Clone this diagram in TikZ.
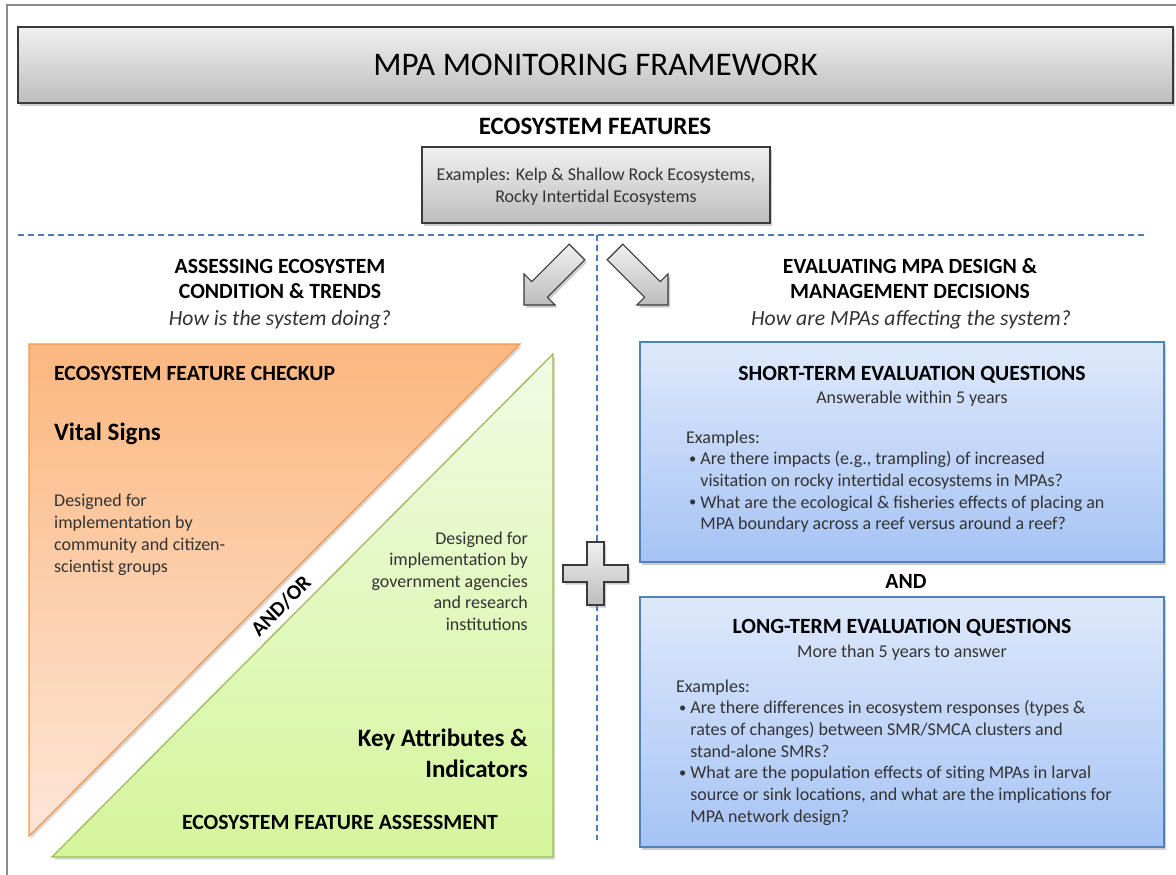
\documentclass[tikz,border=0pt]{standalone}
\usepackage{fontspec}
\setmainfont{Carlito}
\usetikzlibrary{shadows}
\definecolor{frame}{HTML}{8C8C8C}
\definecolor{boxborder}{HTML}{3A3A3A}
\definecolor{grayTop}{HTML}{F0F0F0}
\definecolor{grayBot}{HTML}{BDBDBD}
\definecolor{blueBorder}{HTML}{4F81BD}
\definecolor{blueTop}{HTML}{DEE9FB}
\definecolor{blueBot}{HTML}{A6C3F5}
\definecolor{orangeBorder}{HTML}{F79646}
\definecolor{orangeTop}{HTML}{FBB77F}
\definecolor{orangeBot}{HTML}{FDE6D8}
\definecolor{greenBorder}{HTML}{9BBB59}
\definecolor{greenTop}{HTML}{F0FBE4}
\definecolor{greenBot}{HTML}{D5F59B}
\definecolor{dashblue}{HTML}{4A7EBB}
\definecolor{bodytext}{HTML}{333333}
\newcommand{\smbullet}{\raisebox{0.15ex}{\scalebox{0.8}{\textbullet}}}
\begin{document}
\begin{tikzpicture}[x=1pt,y=-1pt,
  shadowed/.style={drop shadow={shadow xshift=2pt,shadow yshift=-2.5pt,opacity=0.4}},
  graybox/.style={draw=boxborder, line width=1.3pt, top color=grayTop, bottom color=grayBot, shadowed, inner sep=0},
  bluebox/.style={draw=blueBorder, line width=1.3pt, top color=blueTop, bottom color=blueBot, shadowed, inner sep=0},
  blockarrow/.style={draw=boxborder, line width=1.1pt, top color=grayTop, bottom color=grayBot, line join=miter, shadowed},
  dashline/.style={draw=dashblue, line width=1.2pt, dash pattern=on 6pt off 4pt},
  head/.style={font=\fontsize{21.7}{25}\selectfont\bfseries, inner sep=0, text=black},
  bighead/.style={font=\fontsize{25}{31}\selectfont\bfseries, inner sep=0, text=black},
  question/.style={font=\fontsize{21.7}{25}\selectfont\itshape, inner sep=0, text=bodytext},
  body/.style={font=\fontsize{18}{21.7}\selectfont, inner sep=0, text=bodytext},
]
\useasboundingbox (0,0) rectangle (1176,875);
\fill[white] (0,0) rectangle (1176,875);

% outer frame
\draw[frame, line width=1.5pt] (7,875) -- (7,5) -- (1176,5);

% title
\node[graybox, minimum width=1155, minimum height=76,
      font=\fontsize{33}{36}\selectfont, text=black] (title) at (595.5,65) {MPA MONITORING FRAMEWORK};

\node[head, font=\fontsize{25}{28}\selectfont\bfseries, anchor=base] (feat) at (595,134) {ECOSYSTEM FEATURES};
\node[graybox, minimum width=348, minimum height=76] (examples) at (596,185) {};
\node[body, align=center, anchor=base, font=\fontsize{18}{22}\selectfont] (examplestext) at (596,202)
  {Examples: Kelp \& Shallow Rock Ecosystems,\\Rocky Intertidal Ecosystems};

% dashed separators
\coordinate (hl) at (18,235);
\coordinate (hr) at (1148,235);
\coordinate (vt) at (597,235);
\coordinate (vb) at (597,840);
\draw[dashline] (hl) -- (hr);
\draw[dashline] (vt) -- (vb);

% block arrows
\begin{scope}[shift={(577,252)}, rotate=225]
  \path[blockarrow] (0,-11) -- (53,-11) -- (53,-22) -- (75,0) -- (53,22) -- (53,11) -- (0,11) -- cycle;
\end{scope}
\begin{scope}[shift={(615,252)}, rotate=-45]
  \path[blockarrow] (0,-11) -- (53,-11) -- (53,-22) -- (75,0) -- (53,22) -- (53,11) -- (0,11) -- cycle;
\end{scope}

% headings
\node[head, anchor=base, align=center] (lefthead) at (280,298) {ASSESSING ECOSYSTEM\\CONDITION \& TRENDS};
\node[question, anchor=base] (leftq) at (280,325) {How is the system doing?};
\node[head, anchor=base, align=center] (righthead) at (910,298) {EVALUATING MPA DESIGN \&\\MANAGEMENT DECISIONS};
\node[question, anchor=base] (rightq) at (911,325) {How are MPAs affecting the system?};

% triangles
\coordinate (o1) at (29,344);
\coordinate (o2) at (520,344);
\coordinate (o3) at (29,836);
\path[draw=orangeBorder, line width=1.3pt, top color=orangeTop, bottom color=orangeBot, line join=miter,
      drop shadow={shadow xshift=2pt,shadow yshift=-2.5pt,opacity=0.3}] (o1) -- (o2) -- (o3) -- cycle;
\coordinate (g1) at (553,354);
\coordinate (g2) at (553,857);
\coordinate (g3) at (52,857);
\path[draw=greenBorder, line width=1.3pt, top color=greenTop, bottom color=greenBot, line join=miter,
      drop shadow={shadow xshift=2pt,shadow yshift=-2.5pt,opacity=0.3}] (g1) -- (g2) -- (g3) -- cycle;

\node[head, anchor=base west] (checkup) at (54,380) {ECOSYSTEM FEATURE CHECKUP};
\node[bighead, anchor=base west] (vital) at (54,440) {Vital Signs};
\node[body, anchor=base west, align=left, font=\fontsize{18}{22}\selectfont] (orangetext) at (54,572)
  {Designed for\\implementation by\\community and citizen-\\scientist groups};
\node[font=\fontsize{21}{24}\selectfont\bfseries, rotate=45, inner sep=0] (andor) at (281,606) {AND/OR};
\node[body, anchor=base east, align=right, font=\fontsize{18}{21.5}\selectfont] (greentext) at (528,630)
  {Designed for\\implementation by\\government agencies\\and research\\institutions};
\node[bighead, anchor=base east, align=right] (keyattr) at (528,777) {Key Attributes \&\\Indicators};
\node[head, anchor=base] (assess) at (340,829) {ECOSYSTEM FEATURE ASSESSMENT};

% plus sign
\path[blockarrow] (587,542) -- (604,542) -- (604,565) -- (628,565) -- (628,582) -- (604,582) -- (604,605)
  -- (587,605) -- (587,582) -- (563,582) -- (563,565) -- (587,565) -- cycle;

% right boxes
\node[bluebox, minimum width=524, minimum height=220] (short) at (902,452) {};
\node[head, anchor=base] (shorttitle) at (912,380) {SHORT-TERM EVALUATION QUESTIONS};
\node[body, anchor=base] (shortsub) at (912,403) {Answerable within 5 years};
\node[body, anchor=base west] (shortex) at (686,443)
  {\begin{tabular}[t]{@{}l@{\hspace{4pt}}l@{}}
   \multicolumn{2}{@{}l@{}}{Examples:}\\
   \hspace{3pt}\smbullet & Are there impacts (e.g., trampling) of increased\\
   & visitation on rocky intertidal ecosystems in MPAs?\\
   \hspace{3pt}\smbullet & What are the ecological \& fisheries effects of placing an\\
   & MPA boundary across a reef versus around a reef?
   \end{tabular}};

\node[head, anchor=base] (and) at (906,588) {AND};

\node[bluebox, minimum width=524, minimum height=250] (long) at (902,722) {};
\node[head, anchor=base] (longtitle) at (902,633) {LONG-TERM EVALUATION QUESTIONS};
\node[body, anchor=base] (longsub) at (902,657) {More than 5 years to answer};
\node[body, anchor=base west] (longex) at (676,692)
  {\begin{tabular}[t]{@{}l@{\hspace{4pt}}l@{}}
   \multicolumn{2}{@{}l@{}}{Examples:}\\
   \hspace{3pt}\smbullet & Are there differences in ecosystem responses (types \&\\
   & rates of changes) between SMR/SMCA clusters and\\
   & stand-alone SMRs?\\
   \hspace{3pt}\smbullet & What are the population effects of siting MPAs in larval\\
   & source or sink locations, and what are the implications for\\
   & MPA network design?
   \end{tabular}};
\end{tikzpicture}
\end{document}
